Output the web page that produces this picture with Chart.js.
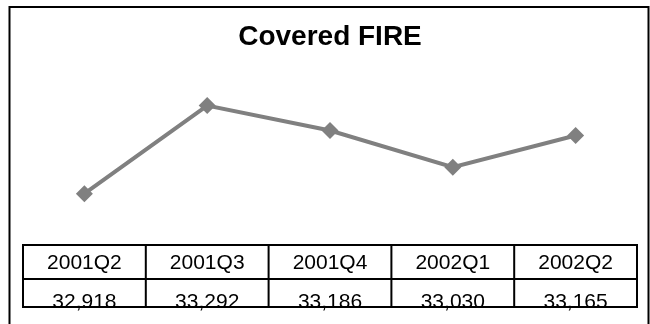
<!DOCTYPE html>
<html>
<head>
<meta charset="utf-8">
<script src="https://cdn.jsdelivr.net/npm/chart.js@4"></script>
<style>
  html, body { margin: 0; padding: 0; background: #fff; }
  #wrap { position: relative; width: 650px; height: 324px; }
</style>
</head>
<body>
<div id="wrap"><canvas id="chart"></canvas></div>
<script>
const quarters = ['2001Q2', '2001Q3', '2001Q4', '2002Q1', '2002Q2'];
const covered = [32918, 33292, 33186, 33030, 33165];
const chartTitle = 'Covered FIRE';

const FONT = '"Liberation Sans", Arial, sans-serif';

// outer frame plus the two-row data table under the plot
const tablePlugin = {
    id: 'dataTable',
    afterDraw(chart) {
        const ctx = chart.ctx;
        const x = chart.scales.x;
        const area = chart.chartArea;
        const step = (area.right - area.left) / quarters.length;
        const top = area.bottom;
        const mid = top + 34;
        const bottom = top + 62;

        ctx.save();
        ctx.fillStyle = '#000';
        ctx.font = '21px ' + FONT;
        ctx.textAlign = 'center';
        ctx.textBaseline = 'alphabetic';
        quarters.forEach((q, i) => {
            const cx = x.getPixelForValue(i);
            ctx.fillText(q, cx, top + 23.5);
            ctx.fillText(covered[i].toLocaleString('en-US'), cx, bottom + 1);
        });

        ctx.strokeStyle = '#000';
        ctx.lineWidth = 2;
        ctx.strokeRect(area.left, top, area.right - area.left, bottom - top);
        ctx.beginPath();
        ctx.moveTo(area.left, mid);
        ctx.lineTo(area.right, mid);
        for (let i = 1; i < quarters.length; i++) {
            const sx = area.left + i * step;
            ctx.moveTo(sx, top);
            ctx.lineTo(sx, bottom);
        }
        ctx.stroke();

        ctx.strokeRect(9.5, 7, 639, 400);
        ctx.restore();
    }
};

new Chart(document.getElementById('chart'), {
    type: 'line',
    data: {
        labels: quarters,
        datasets: [{
            data: covered,
            borderColor: '#808080',
            backgroundColor: '#808080',
            borderWidth: 4,
            pointStyle: 'rectRot',
            pointRadius: 8.5,
            pointBorderWidth: 0,
            tension: 0
        }]
    },
    options: {
        responsive: true,
        maintainAspectRatio: false,
        animation: false,
        layout: { padding: { left: 23, right: 13, top: 0, bottom: 79 } },
        scales: {
            x: { display: false, offset: true },
            y: { display: false, min: 32700, max: 33500 }
        },
        plugins: {
            legend: { display: false },
            tooltip: { enabled: false },
            title: {
                display: true,
                text: chartTitle,
                color: '#000',
                font: { family: FONT, size: 28, weight: 'bold' },
                padding: { top: 20, bottom: 3 }
            }
        }
    },
    plugins: [tablePlugin]
});
</script>
</body>
</html>
